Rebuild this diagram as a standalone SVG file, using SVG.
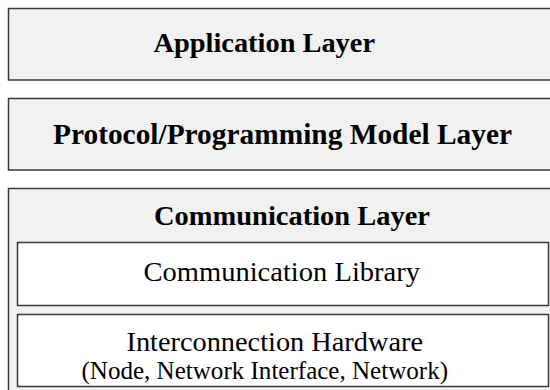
<svg xmlns="http://www.w3.org/2000/svg" width="550" height="390" viewBox="0 0 550 390">
  <style>
    .layer { fill: #f1f1f1; stroke: #3a3a3a; stroke-width: 1.5; }
    .sub { fill: #ffffff; stroke: #3a3a3a; stroke-width: 1.5; }
    .title { font-family: "Liberation Serif", "Times New Roman", serif; font-size: 28px; font-weight: bold; fill: #000; }
    .label { font-family: "Liberation Serif", "Times New Roman", serif; font-size: 28px; fill: #000; }
    .note { font-family: "Liberation Serif", "Times New Roman", serif; font-size: 25px; fill: #000; }
  </style>

  <g id="application-layer">
    <rect class="layer" x="8.5" y="8.5" width="560" height="71.5"/>
    <text class="title" x="153.5" y="52" textLength="221.5" lengthAdjust="spacingAndGlyphs">Application Layer</text>
  </g>

  <g id="protocol-layer">
    <rect class="layer" x="8.5" y="98.5" width="560" height="71.5"/>
    <text class="title" x="53" y="143.5" style="font-size:29px" textLength="459" lengthAdjust="spacingAndGlyphs">Protocol/Programming Model Layer</text>
  </g>

  <g id="communication-layer">
    <rect class="layer" x="8.5" y="188.5" width="560" height="220"/>
    <text class="title" x="154" y="225" textLength="276" lengthAdjust="spacingAndGlyphs">Communication Layer</text>
  </g>

  <g id="communication-library">
    <rect class="sub" x="17.5" y="242.5" width="531" height="63"/>
    <text class="label" x="143.5" y="281" textLength="276.5" lengthAdjust="spacingAndGlyphs">Communication Library</text>
  </g>

  <g id="interconnection-hardware">
    <rect class="sub" x="17.5" y="314.5" width="531" height="72"/>
    <text class="label" x="126.5" y="351" textLength="296.5" lengthAdjust="spacingAndGlyphs">Interconnection Hardware</text>
    <text class="note" x="81.5" y="379" textLength="366.5" lengthAdjust="spacingAndGlyphs">(Node, Network Interface, Network)</text>
  </g>

  <g id="connectors"/>
</svg>
